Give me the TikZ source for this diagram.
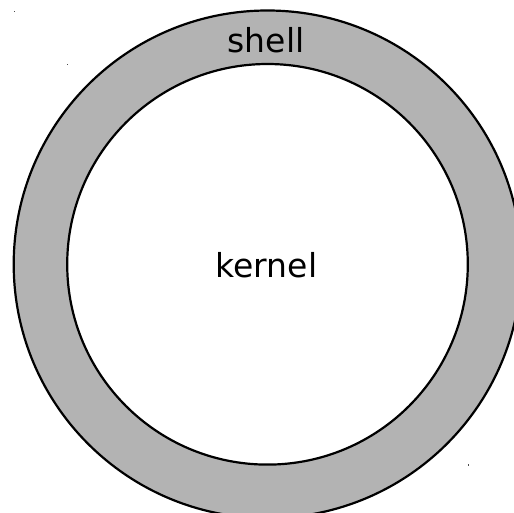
\documentclass[tikz,border=0pt]{standalone}
\usepackage{fontspec}
\setmainfont{DejaVu Sans}
\begin{document}
\begin{tikzpicture}[x=1pt,y=-1pt,
  ring/.style={draw=black,line width=2.2pt},
  lbl/.style={font=\fontsize{33}{39}\selectfont,anchor=base,inner sep=0pt},
  speck/.style={fill=black!70}]
\useasboundingbox (0,0) rectangle (514,513);
\clip (0,0) rectangle (514,513);
\fill[ring,fill={rgb,255:red,179;green,179;blue,179}] (267.5,264.3) circle[radius=253.8];
\fill[ring,fill=white] (267.5,264.3) circle[radius=200.3];
\node[lbl] (shell) at (266,53) {shell};
\node[lbl] (kernel) at (266.5,277) {kernel};
\fill[speck] (13.6,10.6) rectangle (14.4,12.2);
\fill[speck] (67.4,63.6) rectangle (68.2,65.4);
\fill[speck] (468.2,464.2) rectangle (469,466);
\end{tikzpicture}
\end{document}
